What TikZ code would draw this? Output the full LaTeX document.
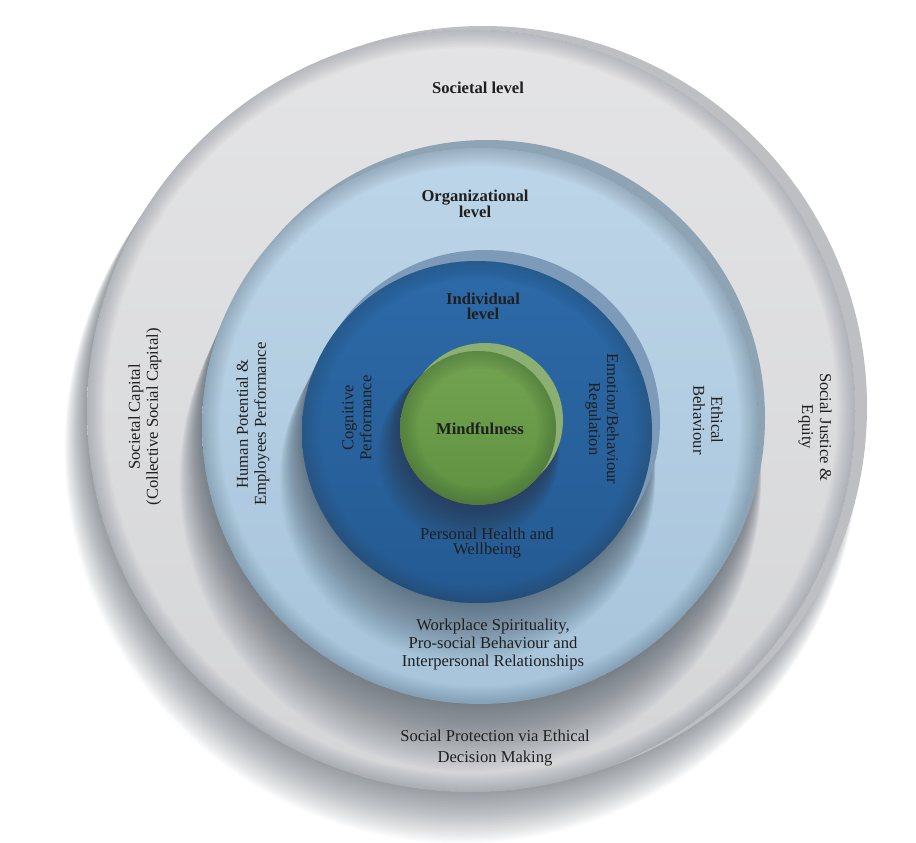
\documentclass[tikz,border=0pt]{standalone}
\usepackage{fontspec}
\setmainfont{Liberation Serif}
\usepackage{xcolor}

\definecolor{shadowc}{HTML}{27323F}
\definecolor{socrim}{HTML}{BEBFC2}
\definecolor{soctop}{HTML}{E4E4E6}
\definecolor{socbot}{HTML}{D4D5D7}
\definecolor{orgrim}{HTML}{8EA4B5}
\definecolor{orgtop}{HTML}{BDD5E8}
\definecolor{orgbot}{HTML}{A7C4DB}
\definecolor{indrim}{HTML}{7D9BB9}
\definecolor{indtop}{HTML}{2D6AA8}
\definecolor{indbot}{HTML}{245A92}
\definecolor{mindrim}{HTML}{8BB071}
\definecolor{mindtop}{HTML}{73A450}
\definecolor{mindbot}{HTML}{5F9141}

\begin{document}
\begin{tikzpicture}[x=1pt,y=-1pt]
\tikzset{every node/.style={inner sep=0pt,text=black!88}}
\tikzset{item text/.style={align=center,font=\fontsize{16.6}{18}\selectfont}}
\tikzset{level text/.style={align=center,font=\bfseries\fontsize{16.6}{15}\selectfont}}

\useasboundingbox (0,0) rectangle (916,843);

% the four discs, outermost first: shadow, rim, face, darker edge
\foreach \cx/\cy/\rx/\ry/\dx/\dy/\sh/\rimc/\topc/\botc in {
  471/411/384/381/12/-4/1.2/socrim/soctop/socbot,
  480/426/278/278/7/-8/1.7/orgrim/orgtop/orgbot,
  477/432/175/171/8/-11/1.5/indrim/indtop/indbot,
  478/428/78/77/7/-8/0.8/mindrim/mindtop/mindbot}
{
  \foreach \k in {1,...,32}
    \fill[shadowc,opacity=0.02] (\cx-\k*0.3,\cy+\k*\sh)
      ellipse [x radius=\rx*1pt+\k*0.4pt, y radius=\ry*1pt+\k*0.4pt];
  \fill[\rimc] (\cx+\dx,\cy+\dy) ellipse [x radius=\rx*1pt, y radius=\ry*1pt];
  \shade[top color=\topc,bottom color=\botc] (\cx,\cy)
    ellipse [x radius=\rx*1pt, y radius=\ry*1pt];
  \begin{scope}
    \clip (\cx,\cy) ellipse [x radius=\rx*1pt, y radius=\ry*1pt];
    \foreach \k in {1,...,12}
      \draw[shadowc,opacity=0.018,line width=\k*3pt] (\cx,\cy)
        ellipse [x radius=\rx*1pt, y radius=\ry*1pt];
  \end{scope}
}

% level names
\node[level text] (soc) at (478,88) {Societal level};
\node[level text] (org) at (475,204) {Organizational\\level};
\node[level text] (ind) at (483,306) {Individual\\level};
\node[level text] (mind) at (480,429) {Mindfulness};

% outcomes, individual level
\node[item text,rotate=90] (cogn) at (357,418) {Cognitive\\Performance};
\node[item text,rotate=-90] (emot) at (602,419) {Emotion/Behaviour\\Regulation};
\node[item text,font=\fontsize{16.6}{15}\selectfont] (health) at (487,543) {Personal Health and\\Wellbeing};

% outcomes, organizational level
\node[item text,rotate=90] (human) at (253,424) {Human Potential \&\\Employees Performance};
\node[item text,rotate=-90] (ethic) at (708,420) {Ethical\\Behaviour};
\node[item text] (workp) at (493,645) {Workplace Spirituality,\\Pro-social Behaviour and\\Interpersonal Relationships};

% outcomes, societal level
\node[item text,rotate=90] (capital) at (145,417) {Societal Capital\\(Collective Social Capital)};
\node[item text,rotate=-90] (justice) at (815,427) {Social Justice \&\\Equity};
\node[item text,font=\fontsize{16.6}{21}\selectfont] (protect) at (495,748) {Social Protection via Ethical\\Decision Making};

\end{tikzpicture}
\end{document}
